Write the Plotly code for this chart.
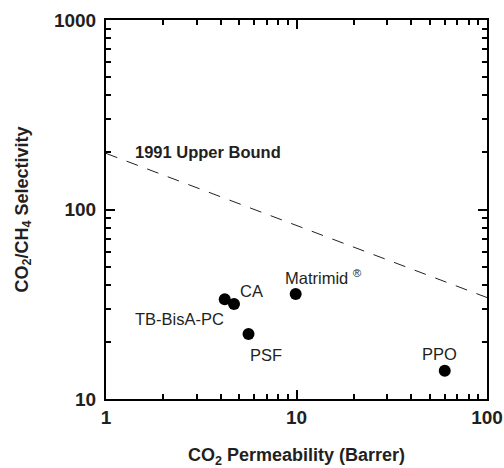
import numpy as np
import plotly.graph_objects as go

# Data
polymers = ["TB-BisA-PC", "CA", "PSF", "Matrimid", "PPO"]
permeability = [4.2, 4.7, 5.6, 9.9, 60.0]
selectivity = [33.6, 31.7, 22.0, 35.8, 14.1]

bound_label = "1991 Upper Bound"
bound_perm = [1.0, 100.0]
bound_sel = [197.8, 34.3]

# label anchors (data coordinates)
label_text = ["TB-BisA-PC", "CA", "PSF", "Matrimid <sup>®</sup>", "PPO"]
label_x = [4.27, 4.93, 5.56, 8.46, 56.2]
label_y = [26.4, 37.3, 17.1, 44.2, 17.3]
label_anchor = ["right", "left", "left", "left", "center"]

FONT = "Liberation Sans, Arial, sans-serif"
TXT = "#231f20"

fig = go.Figure()

fig.add_trace(go.Scatter(
    x=bound_perm, y=bound_sel, mode="lines",
    line=dict(color=TXT, width=1, dash="12px,10px"),
    showlegend=False, hoverinfo="skip"))

fig.add_trace(go.Scatter(
    x=permeability, y=selectivity, mode="markers", text=polymers,
    marker=dict(size=12, color="black"),
    showlegend=False))

for t, x, y, a in zip(label_text, label_x, label_y, label_anchor):
    fig.add_annotation(x=np.log10(x), y=np.log10(y), text=t, showarrow=False,
                       xanchor=a, yanchor="middle",
                       font=dict(family=FONT, size=16.5, color=TXT))

fig.add_annotation(x=np.log10(1.386), y=np.log10(201), text=bound_label,
                   showarrow=False, xanchor="left", yanchor="middle",
                   font=dict(family=FONT, size=16.5, color=TXT, weight="bold"))

axis_common = dict(
    type="log", showgrid=False, zeroline=False,
    showline=True, linecolor="black", linewidth=2, mirror="allticks",
    ticks="inside", ticklen=9, tickwidth=2, tickcolor="black",
    tick0=0, dtick=1, exponentformat="none",
    minor=dict(dtick="D1", ticks="inside", ticklen=5, tickwidth=2,
               tickcolor="black", showgrid=False),
    tickfont=dict(family=FONT, size=19, color=TXT, weight="bold"),
)

fig.update_xaxes(**axis_common, range=[0, 2],
                 title=dict(text="CO<sub>2</sub> Permeability (Barrer)",
                            font=dict(family=FONT, size=18, color=TXT, weight="bold"),
                            standoff=35))
fig.update_yaxes(**axis_common, range=[1, 3], ticklabelstandoff=4,
                 title=dict(text="CO<sub>2</sub>/CH<sub>4</sub> Selectivity",
                            font=dict(family=FONT, size=18, color=TXT, weight="bold"),
                            standoff=21))

fig.update_layout(
    width=504, height=468,
    margin=dict(l=106, r=17, t=20, b=69, autoexpand=False),
    plot_bgcolor="white", paper_bgcolor="white",
    font=dict(family=FONT, color=TXT),
)

fig.write_html("out.html")
